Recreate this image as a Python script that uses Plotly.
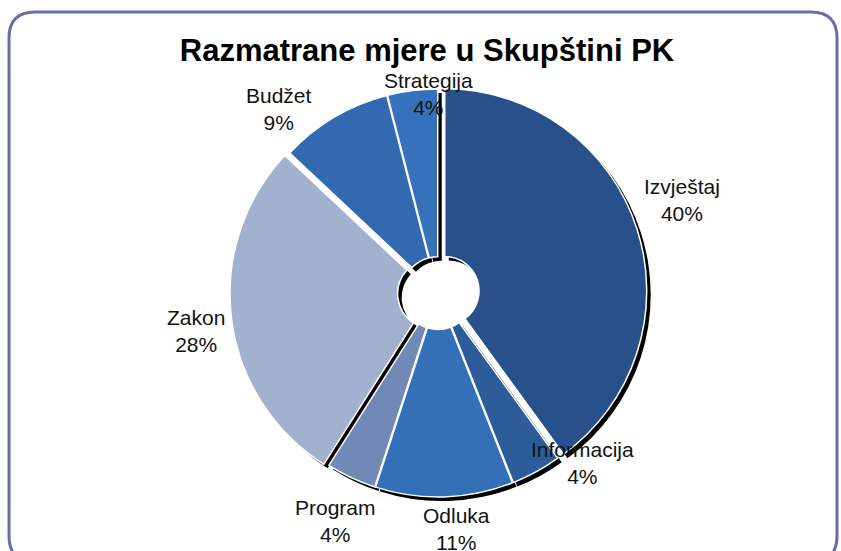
import math
import plotly.graph_objects as go

# chart data
categories = ["Izvještaj", "Informacija", "Odluka", "Program", "Zakon", "Budžet", "Strategija"]
values = [40, 4, 11, 4, 28, 9, 4]
colors = ["#28508a", "#2c5c9a", "#3470b8", "#7189b6", "#a2b1cf", "#3269b0", "#3672bc"]

# styling: slice explosion and label placement (radius factor, angle nudge in degrees)
pulls = [0.035, 0.01, 0.01, 0.01, 0.03, 0.01, 0.01]
label_r = [1.292, 1.103, 1.172, 1.237, 1.213, 1.204, 0.986]
label_da = [-2.9, -11.5, -2.6, -1.1, -1.7, -10.2, 4.6]

W, H = 841, 551
cx, cy, R = 438, 293, 202
maxpull = max(pulls)
dr = R * (1 + maxpull)


def dom(dx=0, dy=0):
    return dict(
        x=[(cx + dx - dr) / W, (cx + dx + dr) / W],
        y=[(H - (cy + dy) - dr) / H, (H - (cy + dy) + dr) / H],
    )


fig = go.Figure()

# drop shadow
fig.add_trace(go.Pie(
    labels=categories, values=values, pull=pulls, sort=False,
    direction="clockwise", rotation=0, hole=0.17,
    marker=dict(colors=["#000000"] * len(values), line=dict(width=0)),
    textinfo="none", hoverinfo="skip", showlegend=False,
    domain=dom(4, 4),
))

# main donut
fig.add_trace(go.Pie(
    labels=categories, values=values, pull=pulls, sort=False,
    direction="clockwise", rotation=0, hole=0.17,
    marker=dict(colors=colors, line=dict(color="white", width=1.5)),
    textinfo="none", showlegend=False,
    domain=dom(),
))

# data labels placed around the slice mid-angles
total = sum(values)
annotations = []
acc = 0
for name, v, f, da in zip(categories, values, label_r, label_da):
    mid = (acc + v / 2) / total * 360 + da
    acc += v
    a = math.radians(mid)
    x = cx + R * f * math.sin(a)
    y = cy - R * f * math.cos(a)
    annotations.append(dict(
        x=x / W, y=1 - y / H, xref="paper", yref="paper",
        text=f"{name}<br>{round(v / total * 100)}%", showarrow=False,
        xanchor="center", yanchor="middle",
        font=dict(family="Liberation Sans, Arial", size=21, color="#111111"),
    ))

# rounded frame
fx0, fy0, fx1, fy1, rad = 9, 12, 837, 562, 26
px = lambda v: v / W
py = lambda v: 1 - v / H
path = (
    f"M {px(fx0 + rad)},{py(fy0)} L {px(fx1 - rad)},{py(fy0)} "
    f"Q {px(fx1)},{py(fy0)} {px(fx1)},{py(fy0 + rad)} "
    f"L {px(fx1)},{py(fy1 - rad)} Q {px(fx1)},{py(fy1)} {px(fx1 - rad)},{py(fy1)} "
    f"L {px(fx0 + rad)},{py(fy1)} Q {px(fx0)},{py(fy1)} {px(fx0)},{py(fy1 - rad)} "
    f"L {px(fx0)},{py(fy0 + rad)} Q {px(fx0)},{py(fy0)} {px(fx0 + rad)},{py(fy0)} Z"
)

fig.update_layout(
    width=W, height=H,
    margin=dict(l=0, r=0, t=0, b=0),
    paper_bgcolor="white",
    title=dict(
        text="<b>Razmatrane mjere u Skupštini PK</b>",
        x=427 / W, xanchor="center", y=1 - 50 / H, yanchor="middle",
        font=dict(family="Liberation Sans, Arial", size=31, color="black"),
    ),
    annotations=annotations,
    shapes=[dict(type="path", path=path, xref="paper", yref="paper",
                 line=dict(color="#6d6da6", width=3), layer="below")],
)

fig.write_html(
    "out.html",
    config={"displayModeBar": False},
    post_script="document.body.style.margin='0';document.body.style.overflow='hidden';",
)
